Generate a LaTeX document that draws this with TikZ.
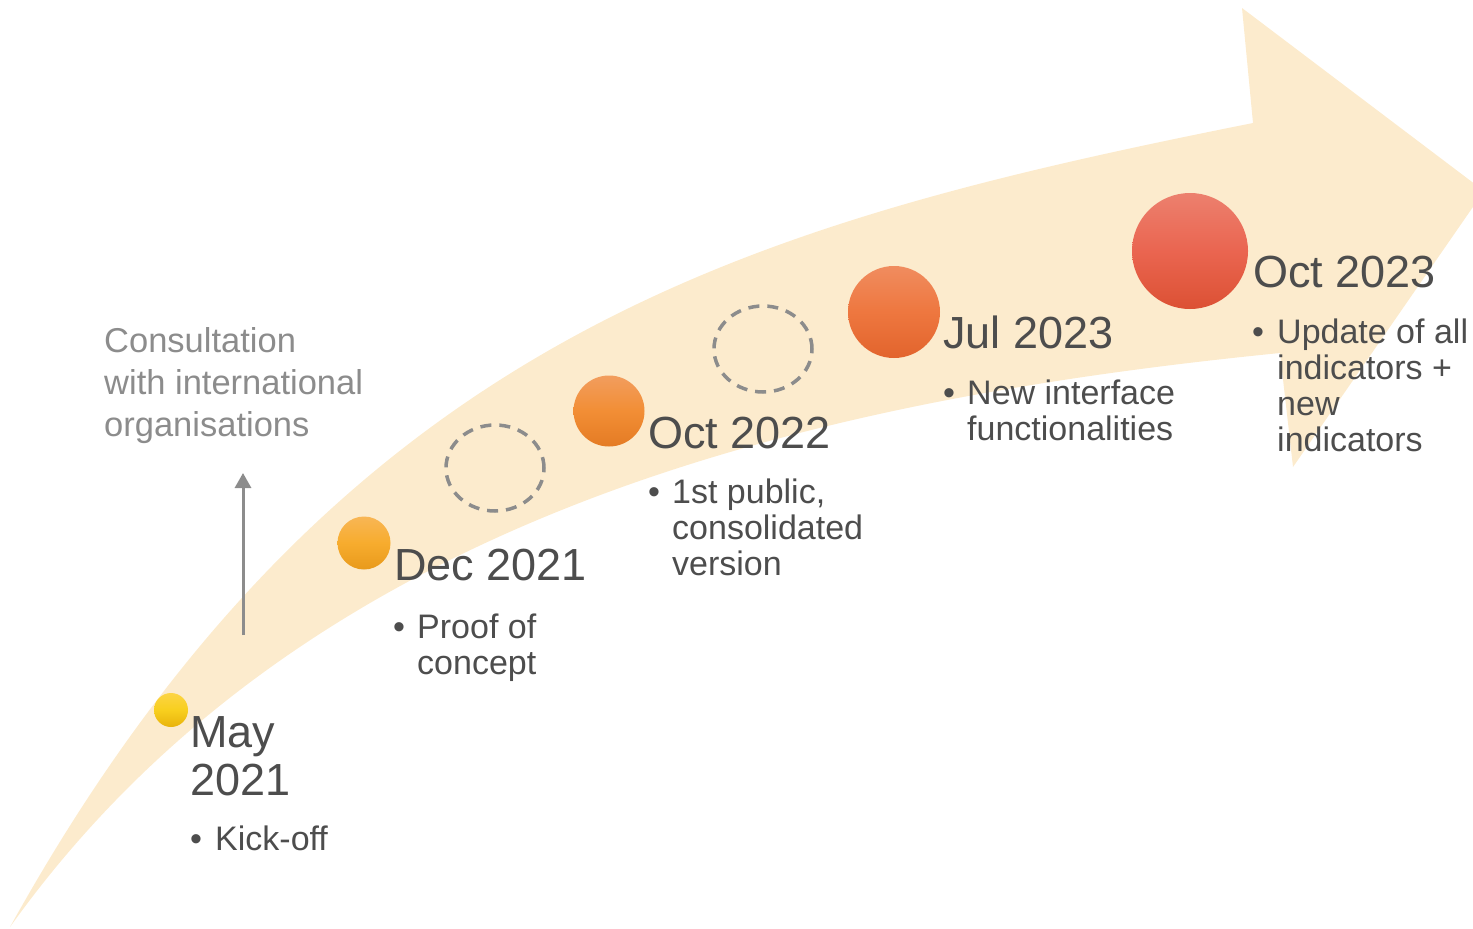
\documentclass[tikz,border=0pt]{standalone}
\usepackage{fontspec}
\setmainfont{Liberation Sans}
\usepackage{xcolor}
\usetikzlibrary{shapes.geometric, arrows.meta}
\definecolor{band}{HTML}{FCEBCD}
\definecolor{ink}{HTML}{4D4D4D}
\definecolor{note}{HTML}{8C8C8C}
\tikzstyle{arrow} = [line width=3pt,draw=note,-{Triangle[width=16pt,length=15pt]}]

\begin{document}
\begin{tikzpicture}
        [
            x=1pt,y=-1pt,
            dot/.style={circle,inner sep=0pt},
            plan/.style={ellipse,draw=note,line width=3.5pt,dash pattern=on 11pt off 8pt,
                         minimum width=98pt,minimum height=86pt,inner sep=0pt},
            date/.style={anchor=base west,inner sep=0pt,align=left,text=ink,font=\fontsize{45}{48}\selectfont},
            item/.style={anchor=base west,inner sep=0pt,align=left,text=ink,font=\fontsize{34}{36}\selectfont},
        ]
    \clip (0,0) rectangle (1473,929);

    % the big curved arrow
    \fill[band] (10,927) .. controls (340,333) and (753,223) .. (1253,123)
        -- (1242,8) -- (1484,191) -- (1293,467) -- (1280,353)
        .. controls (830,398) and (310,507) .. (10,927) -- cycle;

    % milestones
    \node[dot,minimum size=34pt,top color={rgb,255:red,252;green,212;blue,68},bottom color={rgb,255:red,232;green,179;blue,12},
          middle color={rgb,255:red,248;green,207;blue,30}] (may) at (171,710) {};
    \node[dot,minimum size=53pt,top color={rgb,255:red,248;green,182;blue,85},bottom color={rgb,255:red,232;green,154;blue,28},
          middle color={rgb,255:red,247;green,172;blue,46}] (dec) at (364,543) {};
    \node[plan] (gapA) at (495,468) {};
    \node[dot,minimum size=71pt,top color={rgb,255:red,242;green,157;blue,94},bottom color={rgb,255:red,228;green,123;blue,36},
          middle color={rgb,255:red,242;green,142;blue,53}] (oct22) at (609,411) {};
    \node[plan] (gapB) at (763,349) {};
    \node[dot,minimum size=92pt,top color={rgb,255:red,240;green,140;blue,95},bottom color={rgb,255:red,226;green,100;blue,45},
          middle color={rgb,255:red,238;green,119;blue,63}] (jul23) at (894,312) {};
    \node[dot,minimum size=116pt,top color={rgb,255:red,236;green,128;blue,110},bottom color={rgb,255:red,220;green,81;blue,52},
          middle color={rgb,255:red,234;green,101;blue,80}] (oct23) at (1190,251) {};

    % dates (base = last line)
    \node[date] (mayD) at (190,795) {May\\2021};
    \node[date] (decD) at (394,580) {Dec 2021};
    \node[date] (oct22D) at (648,448) {Oct 2022};
    \node[date] (jul23D) at (943,348) {Jul 2023};
    \node[date] (oct23D) at (1253,287) {Oct 2023};

    % bullets
    \node[item] (mayB) at (190,850) {\textbullet};
    \node[item] (mayT) at (215,850) {Kick-off};
    \node[item] (decB) at (393,638) {\textbullet};
    \node[item] (decT) at (417,674) {Proof of\\concept};
    \node[item] (oct22B) at (648,503) {\textbullet};
    \node[item] (oct22T) at (672,575) {1st public,\\consolidated\\version};
    \node[item] (jul23B) at (943,404) {\textbullet};
    \node[item] (jul23T) at (967,440) {New interface\\functionalities};
    \node[item] (oct23B) at (1252,343) {\textbullet};
    \node[item] (oct23T) at (1277,451) {Update of all\\indicators +\\new\\indicators};

    % consultation
    \node[anchor=base west,inner sep=0pt,align=left,text=note,font=\fontsize{34.5}{42}\selectfont]
        (consult) at (104,436) {Consultation\\with international\\organisations};
    \coordinate (cfoot) at (243,635);
    \coordinate (chead) at (243,473);
    \draw[arrow] (cfoot) -- (chead);
\end{tikzpicture}
\end{document}
